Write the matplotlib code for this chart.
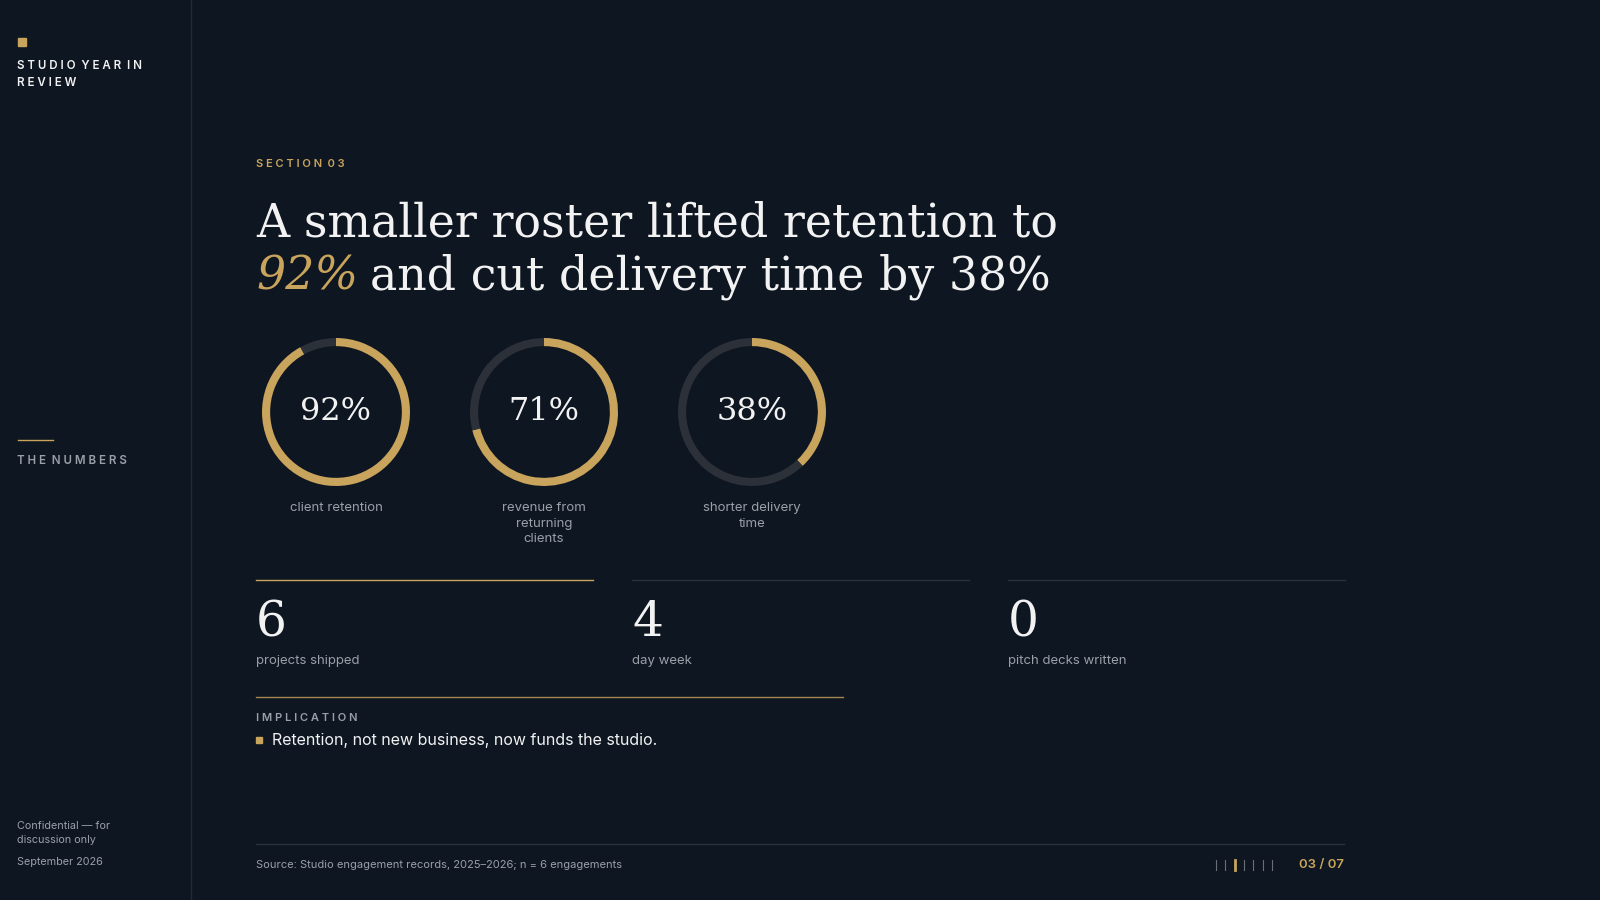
import matplotlib
matplotlib.use("Agg")
import matplotlib.pyplot as plt

ring_values = [92, 71, 38]
ring_labels = ["client retention", "revenue from\nreturning\nclients", "shorter delivery\ntime"]
stat_values = ["6", "4", "0"]
stat_labels = ["projects shipped", "day week", "pitch decks written"]
page_current, page_total = 3, 7

BG = "#0e1621"; GOLD = "#c9a45c"; TRACK = "#2b3039"; WHITE = "#f2f2f2"; GREY = "#9aa0a8"
SANS = "Inter"; SERIF = "DejaVu Serif"

fig = plt.figure(figsize=(16, 9), dpi=100, facecolor=BG)
ax = fig.add_axes([0, 0, 1, 1]); ax.set_xlim(0, 1600); ax.set_ylim(900, 0); ax.axis("off")
ax.set_facecolor(BG)

def T(x, y, s, **k):
    k.setdefault("family", SANS); k.setdefault("va", "center")
    return ax.text(x, y, s, **k)

# sidebar
ax.plot([191, 191], [0, 900], color="#222a35", lw=1)
ax.add_patch(plt.Rectangle((18, 38), 8, 8, color=GOLD))
T(17, 66, "S T U D I O  Y E A R  I N", color=WHITE, fontsize=8.3, weight="semibold")
T(17, 83, "R E V I E W", color=WHITE, fontsize=8.3, weight="semibold")
ax.plot([18, 53], [440, 440], color=GOLD, lw=1)
T(17, 461, "T H E  N U M B E R S", color=GREY, fontsize=8.3, weight="semibold")
T(17, 826, "Confidential — for", color=GREY, fontsize=7.8)
T(17, 840, "discussion only", color=GREY, fontsize=7.8)
T(17, 862, "September 2026", color=GREY, fontsize=7.8)

T(256, 164, "S E C T I O N  0 3", color=GOLD, fontsize=8, weight="semibold")
T(256, 224, "A smaller roster lifted retention to", family=SERIF, color=WHITE, fontsize=33)
t92 = T(256, 277, "92%", family=SERIF, color=GOLD, fontsize=33, style="italic")
fig.canvas.draw()
bb = t92.get_window_extent()
T(bb.x1 + 12, 277, "and cut delivery time by 38%", family=SERIF, color=WHITE, fontsize=33)

# rings
for i, (v, lab) in enumerate(zip(ring_values, ring_labels)):
    cx = 336 + 208 * i
    R = 74
    a = fig.add_axes([(cx - R) / 1600, 1 - (412 + R) / 900, 2 * R / 1600, 2 * R / 900])
    a.pie([v, 100 - v], colors=[GOLD, TRACK], startangle=90, counterclock=False,
          wedgeprops=dict(width=0.11, edgecolor="none"), radius=1)
    a.set_xlim(-1, 1); a.set_ylim(-1, 1)
    a.set_aspect("equal"); a.axis("off")
    T(cx, 412, f"{v}%", family=SERIF, color=WHITE, fontsize=23, ha="center")
    T(cx, 502, lab, color=GREY, fontsize=9.5, ha="center", va="top", linespacing=1.4)

# stats
for i, (v, lab) in enumerate(zip(stat_values, stat_labels)):
    x0 = 256 + 376 * i
    ax.plot([x0, x0 + 337], [580, 580], color=GOLD if i == 0 else "#2a313c", lw=1)
    T(x0, 623, v, family=SERIF, color=WHITE, fontsize=35)
    T(x0, 661, lab, color=GREY, fontsize=9.5)

ax.plot([256, 843], [697, 697], color=GOLD, lw=1, alpha=0.8)
T(256, 718, "I M P L I C A T I O N", color=GREY, fontsize=8, weight="semibold")
ax.add_patch(plt.Rectangle((256, 737), 6, 6, color=GOLD))
T(272, 740, "Retention, not new business, now funds the studio.", color=WHITE, fontsize=11.5)

ax.plot([256, 1344], [844, 844], color="#2a313c", lw=1)
T(256, 865, "Source: Studio engagement records, 2025–2026; n = 6 engagements", color=GREY, fontsize=8)
for k in range(page_total):
    x = 1216 + 9.3 * k
    cur = (k + 1) == page_current
    ax.plot([x, x], [860, 870], color=GOLD if cur else "#6b6f76", lw=2 if cur else 0.8)
T(1344, 865, f"{page_current:02d} / {page_total:02d}", color=GOLD, fontsize=9.5, weight="semibold", ha="right")

fig.savefig("out.png", facecolor=BG)
